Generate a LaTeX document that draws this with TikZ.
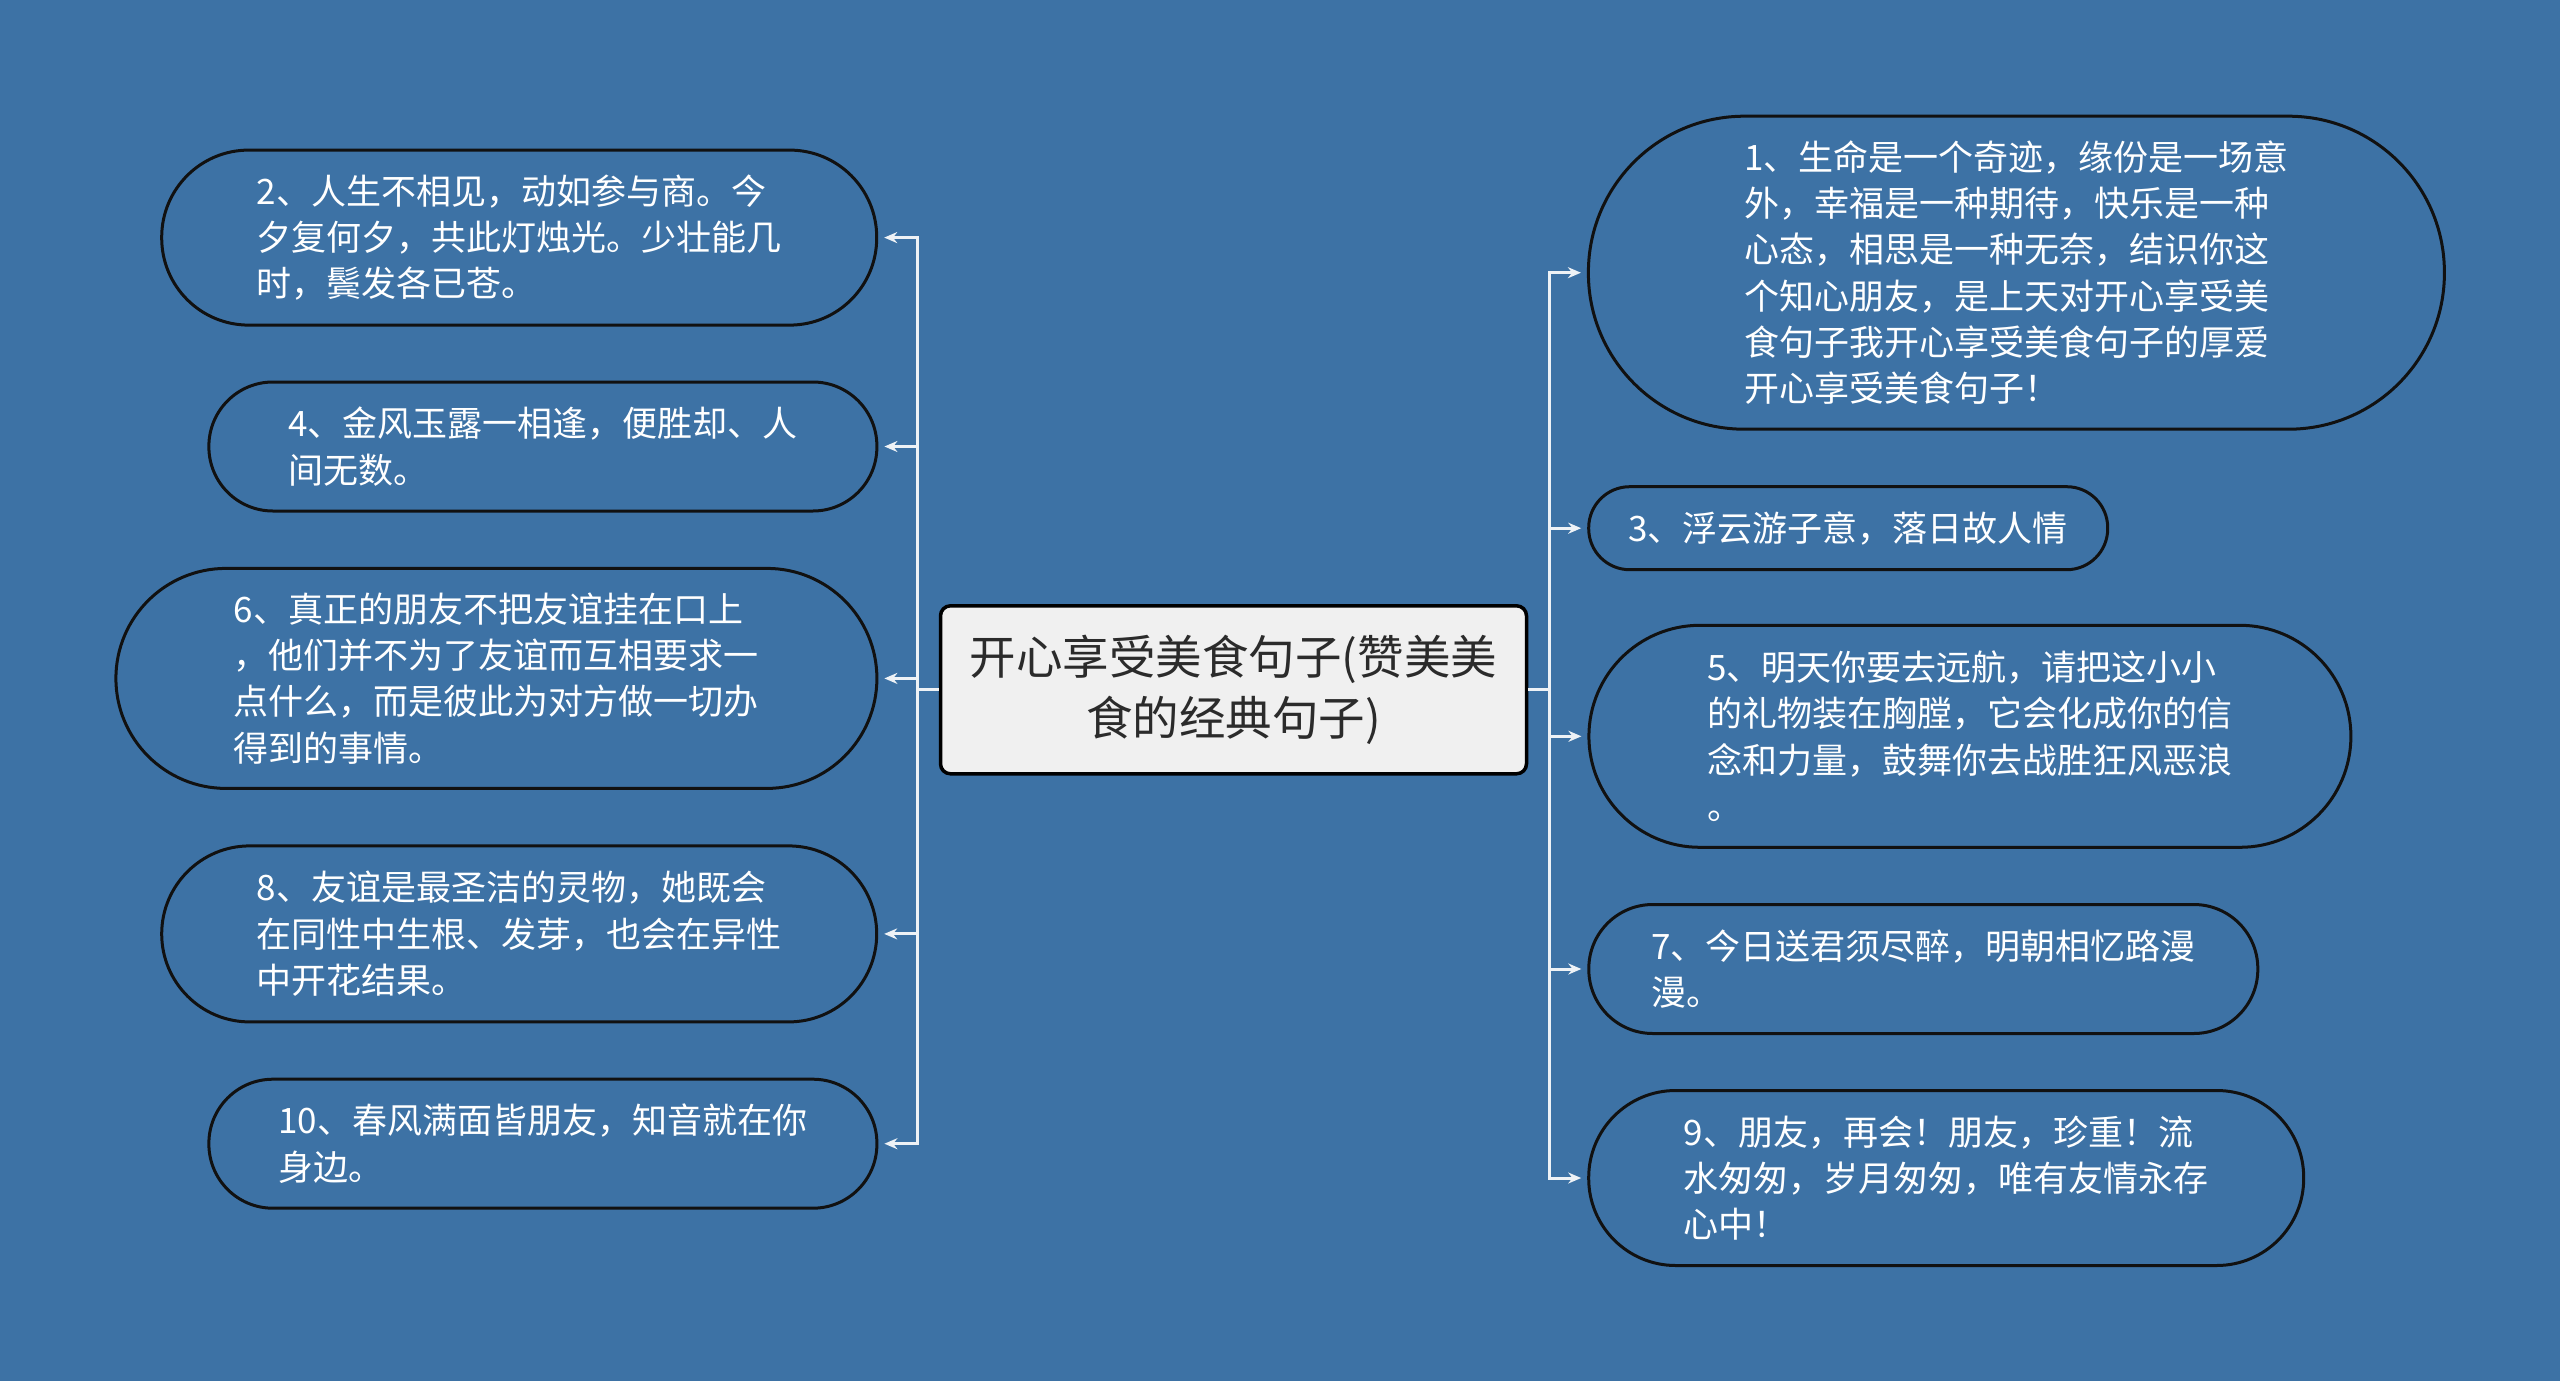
\documentclass[tikz,border=0pt]{standalone}
\usepackage{fontspec}
\newfontfamily\cjk{Noto Sans CJK SC}
\usetikzlibrary{arrows.meta}
\definecolor{bgblue}{HTML}{3D72A5}
\definecolor{linec}{HTML}{EEF2F6}
\definecolor{edgec}{HTML}{111111}
\definecolor{rootfill}{HTML}{F0F0F0}
\definecolor{roottext}{HTML}{2B2B2B}
\tikzset{
  leaf/.style={draw=edgec, line width=3pt, fill=bgblue, text=white, inner sep=0pt,
    align=left, font=\cjk\fontsize{35}{46.3}\selectfont},
  rootbox/.style={draw=black, line width=3.5pt, fill=rootfill, text=roottext, inner sep=0pt,
    rounded corners=10pt, align=center, font=\cjk\fontsize{46.5}{61}\selectfont},
  conn/.style={draw=linec, line width=3pt},
  arr/.style={conn, -{Stealth[length=13pt,width=11pt]}, shorten >=6pt}
}
\begin{document}
\begin{tikzpicture}[x=1pt,y=-1pt]
\fill[bgblue] (0,0) rectangle (2560,1381);
\useasboundingbox (0,0) rectangle (2560,1381);

\node[rootbox, minimum width=586pt, minimum height=168pt] (root) at (1233.5,689.8)
  {开心享受美食句子(赞美美\\食的经典句子)};

% left nodes
\node[leaf, minimum width=715pt, minimum height=175pt, rounded corners=87pt] (n2) at (519.2,237.6)
  {2、人生不相见，动如参与商。今\\夕复何夕，共此灯烛光。少壮能几\\时，鬓发各已苍。};
\node[leaf, minimum width=668pt, minimum height=129pt, rounded corners=64pt] (n4) at (542.9,446.5)
  {4、金风玉露一相逢，便胜却、人\\间无数。};
\node[leaf, minimum width=761pt, minimum height=220pt, rounded corners=110pt] (n6) at (496.4,678.4)
  {6、真正的朋友不把友谊挂在口上\\，他们并不为了友谊而互相要求一\\点什么，而是彼此为对方做一切办\\得到的事情。};
\node[leaf, minimum width=715pt, minimum height=176pt, rounded corners=88pt] (n8) at (519.2,933.9)
  {8、友谊是最圣洁的灵物，她既会\\在同性中生根、发芽，也会在异性\\中开花结果。};
\node[leaf, minimum width=668pt, minimum height=129pt, rounded corners=64pt] (n10) at (542.9,1143.7)
  {10、春风满面皆朋友，知音就在你\\身边。};

% right nodes
\node[leaf, minimum width=856pt, minimum height=313pt, rounded corners=156pt] (n1) at (2016.4,272.7)
  {1、生命是一个奇迹，缘份是一场意\\外，幸福是一种期待，快乐是一种\\心态，相思是一种无奈，结识你这\\个知心朋友，是上天对开心享受美\\食句子我开心享受美食句子的厚爱\\开心享受美食句子！};
\node[leaf, minimum width=519pt, minimum height=83pt, rounded corners=41pt] (n3) at (1848.2,528.2)
  {3、浮云游子意，落日故人情};
\node[leaf, minimum width=762pt, minimum height=222pt, rounded corners=111pt] (n5) at (1969.9,736.3)
  {5、明天你要去远航，请把这小小\\的礼物装在胸膛，它会化成你的信\\念和力量，鼓舞你去战胜狂风恶浪\\。};
\node[leaf, minimum width=669pt, minimum height=129pt, rounded corners=64pt] (n7) at (1923.3,969)
  {7、今日送君须尽醉，明朝相忆路漫\\漫。};
\node[leaf, minimum width=715pt, minimum height=175pt, rounded corners=87pt] (n9) at (1946.2,1178)
  {9、朋友，再会！朋友，珍重！流\\水匆匆，岁月匆匆，唯有友情永存\\心中！};

% trunk coordinates
\coordinate (lt) at (917.6,689.8);
\coordinate (rt) at (1549.4,689.8);

\draw[conn] (root.west) -- (lt);
\draw[conn] (root.east) -- (rt);
\foreach \n in {n2,n4,n6,n8,n10}{
  \draw[arr] (lt) |- (\n.east);
}
\foreach \n in {n1,n3,n5,n7,n9}{
  \draw[arr] (rt) |- (\n.west);
}
\end{tikzpicture}
\end{document}
